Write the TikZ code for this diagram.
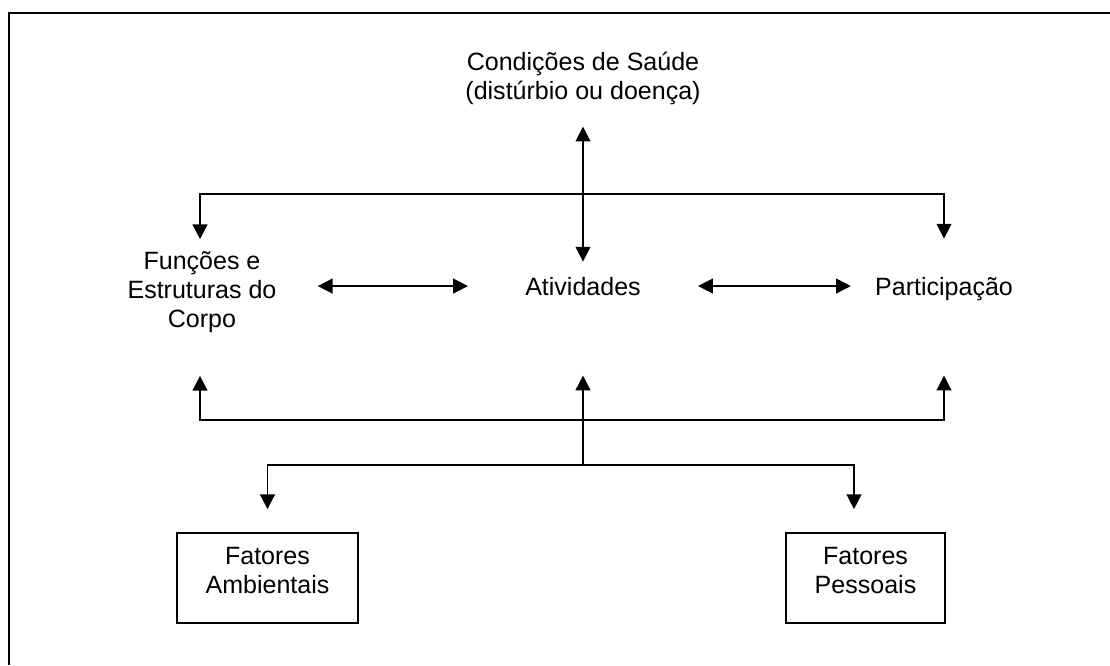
\documentclass[tikz,border=0pt]{standalone}
\usepackage{fontspec}
\setmainfont{Liberation Sans}
\usepackage{tikz}
\usetikzlibrary{arrows.meta,positioning,calc}

\begin{document}
\begin{tikzpicture}[x=0.025cm,y=-0.025cm]
    % Estilos
    \tikzset{
        rotulo/.style={inner sep=0pt, align=center, font=\fontsize{17.8}{20.6}\selectfont},
        caixa/.style={rectangle, draw, line width=1.2pt, align=center, minimum height=2.25cm, font=\fontsize{17.8}{20.6}\selectfont},
        seta/.style={-{Triangle[length=0.37cm,width=0.37cm]}, line width=1.1pt},
        dupla/.style={{Triangle[length=0.37cm,width=0.37cm]}-{Triangle[length=0.37cm,width=0.37cm]}, line width=1.1pt},
        moldura/.style={line width=1.5pt}
    }
    \useasboundingbox (0,0) rectangle (1110,665);

    % Moldura
    \draw[moldura] (9,665) -- (9,13) -- (1110,13);

    % Componentes
    \node[rotulo] (saude) at (583,78) {Condições de Saúde\\(distúrbio ou doença)};
    \node[rotulo] (func) at (202,292) {Funções e\\Estruturas do\\Corpo};
    \node[rotulo, anchor=base] (ativ) at (583,295) {Atividades};
    \node[rotulo, anchor=base] (part) at (944,295) {Participação};

    % Fatores contextuais
    \node[caixa, minimum width=4.525cm] (amb) at (267.5,578) {Fatores\\Ambientais\rule[-0.375cm]{0pt}{0.375cm}};
    \node[caixa, minimum width=3.975cm] (pess) at (865.5,578) {Fatores\\Pessoais\rule[-0.375cm]{0pt}{0.375cm}};

    % Barras
    \coordinate (barraSup) at (583,194);
    \coordinate (barraInf) at (583,420);
    \coordinate (barraFat) at (583,465);

    % Setas
    \draw[dupla] ($(saude.south)+(0,22)$) -- ($(ativ.north)+(0,-15)$);
    \draw[dupla] ($(func.east |- ativ)+(41,0)$) -- ($(ativ.west)+(-57,0)$);
    \draw[dupla] ($(ativ.east)+(57,0)$) -- ($(part.west |- ativ)+(-24,0)$);
    \draw[seta] (barraSup) -| ($(func.north)+(-2,-12)$);
    \draw[seta] (barraSup) -| ($(part.north)+(0,-38)$);
    \draw[seta] (barraInf) -| ($(func.south)+(-2,43)$);
    \draw[seta] (barraInf) -| ($(part.south)+(0,75)$);
    \draw[seta] (barraFat) -- ($(ativ.south)+(0,80)$);
    \draw[seta] (barraFat) -| ($(amb.north)+(0,-23)$);
    \draw[seta] (barraFat) -| ($(pess.north)+(-11.5,-23)$);
\end{tikzpicture}
\end{document}
